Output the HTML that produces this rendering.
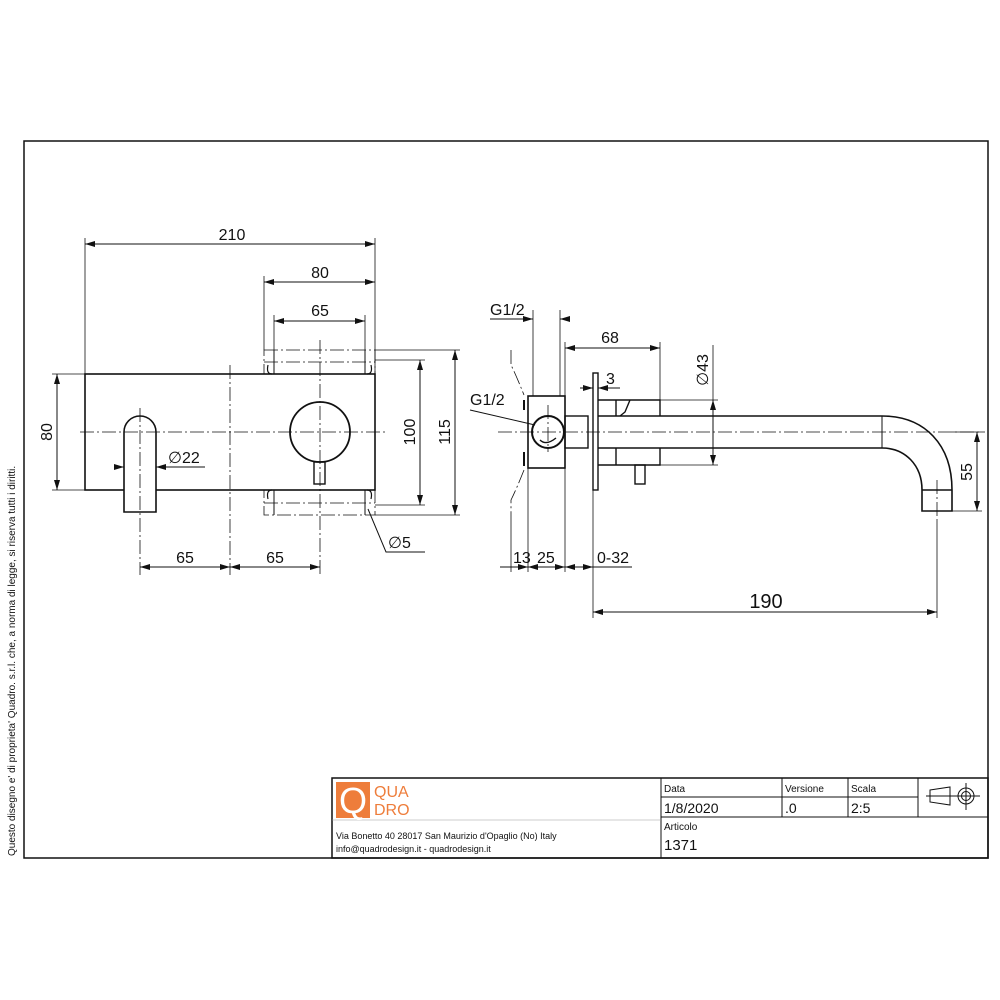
<!DOCTYPE html>
<html><head><meta charset="utf-8"><style>
html,body{margin:0;padding:0;background:#fff}
svg{display:block}
text{font-family:"Liberation Sans",sans-serif;fill:#111}
</style></head><body>
<svg width="1000" height="1000" viewBox="0 0 1000 1000" xmlns="http://www.w3.org/2000/svg">
<defs>
<marker id="a" viewBox="0 0 10 6" refX="10" refY="3" markerWidth="10" markerHeight="6" orient="auto-start-reverse" markerUnits="userSpaceOnUse"><path d="M0,0L10,3L0,6z" fill="#111"/></marker>
</defs>
<g fill="none" stroke="#111" stroke-width="1">
<rect x="24" y="141" width="964" height="717" stroke-width="1.5"/>
<rect x="332" y="778" width="656" height="80" stroke-width="1.5"/>
<line x1="661" y1="778" x2="661" y2="858"/>
<line x1="782" y1="778" x2="782" y2="817"/>
<line x1="848" y1="778" x2="848" y2="817"/>
<line x1="918" y1="778" x2="918" y2="817"/>
<line x1="661" y1="797" x2="918" y2="797"/>
<line x1="661" y1="817" x2="988" y2="817"/>
<line x1="332" y1="820" x2="661" y2="820" stroke="#999" stroke-width="0.6"/>
<path d="M930,790 L950,787 L950,805 L930,802 Z"/>
<circle cx="966" cy="796" r="8"/><circle cx="966" cy="796" r="4.5"/>
<line x1="926" y1="796" x2="980" y2="796"/><line x1="966" y1="783" x2="966" y2="810"/>

<rect x="85" y="374" width="290" height="116" stroke-width="1.6"/>
<path d="M124,512 L124,432 A16,16 0 0 1 156,432 L156,512 Z" fill="#fff" stroke-width="1.6"/>
<circle cx="320" cy="432" r="30" stroke-width="1.8"/>
<rect x="314" y="462" width="11" height="22" stroke-width="1.4"/>
<g stroke-dasharray="14,3,2,3" stroke-width="0.8">
<line x1="80" y1="432" x2="385" y2="432"/>
<line x1="230" y1="365" x2="230" y2="575"/>
<line x1="320" y1="340" x2="320" y2="575"/>
<line x1="140" y1="408" x2="140" y2="575"/>
<rect x="264" y="350" width="111" height="24"/>
<rect x="264" y="490" width="111" height="25"/>
<line x1="264" y1="362" x2="375" y2="362"/>
<line x1="264" y1="503" x2="375" y2="503"/>
</g>
<path d="M268,365 Q266,374 272,374 M371,365 Q373,374 367,374 M268,499 Q266,490 272,490 M371,499 Q373,490 367,490" stroke-width="1.2"/>
<line x1="274" y1="350" x2="274" y2="374"/><line x1="365" y1="350" x2="365" y2="374"/>
<line x1="274" y1="490" x2="274" y2="515"/><line x1="365" y1="490" x2="365" y2="515"/>
<line x1="85" y1="238" x2="85" y2="374" stroke-width="0.8"/>
<line x1="375" y1="238" x2="375" y2="374" stroke-width="0.8"/>
<line x1="85" y1="244" x2="375" y2="244" marker-start="url(#a)" marker-end="url(#a)"/>
<line x1="264" y1="276" x2="264" y2="350" stroke-width="0.8"/>
<line x1="264" y1="282" x2="375" y2="282" marker-start="url(#a)" marker-end="url(#a)"/>
<line x1="274" y1="315" x2="274" y2="350" stroke-width="0.8"/>
<line x1="365" y1="315" x2="365" y2="350" stroke-width="0.8"/>
<line x1="274" y1="321" x2="365" y2="321" marker-start="url(#a)" marker-end="url(#a)"/>
<line x1="52" y1="374" x2="85" y2="374" stroke-width="0.8"/>
<line x1="52" y1="490" x2="85" y2="490" stroke-width="0.8"/>
<line x1="57" y1="374" x2="57" y2="490" marker-start="url(#a)" marker-end="url(#a)"/>
<line x1="375" y1="360" x2="425" y2="360" stroke-width="0.8"/>
<line x1="375" y1="505" x2="425" y2="505" stroke-width="0.8"/>
<line x1="420" y1="360" x2="420" y2="505" marker-start="url(#a)" marker-end="url(#a)"/>
<line x1="375" y1="350" x2="460" y2="350" stroke-width="0.8"/>
<line x1="375" y1="515" x2="460" y2="515" stroke-width="0.8"/>
<line x1="455" y1="350" x2="455" y2="515" marker-start="url(#a)" marker-end="url(#a)"/>
<line x1="140" y1="567" x2="230" y2="567" marker-start="url(#a)" marker-end="url(#a)"/>
<line x1="230" y1="567" x2="320" y2="567" marker-start="url(#a)" marker-end="url(#a)"/>
<line x1="115" y1="467" x2="124" y2="467" marker-end="url(#a)"/>
<line x1="166" y1="467" x2="156" y2="467" marker-end="url(#a)"/>
<line x1="156" y1="467" x2="205" y2="467"/>
<path d="M368,509 L386,552 L425,552"/>

<rect x="528" y="396" width="37" height="72" stroke-width="1.6"/>
<circle cx="548" cy="432" r="16" stroke-width="2"/>
<path d="M540,440 Q546,446 556,438" stroke-width="1.4"/>
<rect x="565" y="416" width="23" height="32" stroke-width="1.4"/>
<rect x="593" y="373" width="5" height="117" stroke-width="1.4"/>
<path d="M598,400 L616,400 L616,416 M598,465 L616,465 L616,448 M616,400 L660,400 L660,416 M616,465 L660,465 L660,448 M630,400 L625,412 L620,416" stroke-width="1.4"/>
<rect x="635" y="465" width="10" height="19" stroke-width="1.4"/>
<path d="M598,416 L882,416 C925,416 952,445 952,490 L952,511 L922,511 L922,490 C922,465 905,448 882,448 L598,448" stroke-width="1.6"/>
<line x1="882" y1="416" x2="882" y2="448"/>
<line x1="922" y1="490" x2="952" y2="490" stroke-width="1.4"/>
<path d="M524,400 L524,410 M524,452 L524,466" stroke-width="2"/>
<g stroke-dasharray="14,3,2,3" stroke-width="0.8">
<line x1="498" y1="432" x2="985" y2="432"/>
<path d="M511,350 L511,365 Q516,375 524,395"/>
<path d="M524,470 Q516,490 511,500 L511,520"/>
<line x1="548" y1="405" x2="548" y2="452"/>
<line x1="937" y1="480" x2="937" y2="520"/>
</g>
<line x1="533" y1="310" x2="533" y2="396" stroke-width="0.8"/>
<line x1="560" y1="310" x2="560" y2="396" stroke-width="0.8"/>
<line x1="490" y1="319" x2="533" y2="319"/>
<line x1="520" y1="319" x2="533" y2="319" marker-end="url(#a)"/>
<line x1="570" y1="319" x2="560" y2="319" marker-end="url(#a)"/>
<line x1="565" y1="342" x2="565" y2="396" stroke-width="0.8"/>
<line x1="660" y1="342" x2="660" y2="400" stroke-width="0.8"/>
<line x1="565" y1="348" x2="660" y2="348" marker-start="url(#a)" marker-end="url(#a)"/>
<line x1="580" y1="388" x2="593" y2="388" marker-end="url(#a)"/>
<line x1="610" y1="388" x2="598" y2="388" marker-end="url(#a)"/>
<line x1="598" y1="388" x2="620" y2="388"/>
<line x1="660" y1="400" x2="718" y2="400" stroke-width="0.8"/>
<line x1="660" y1="465" x2="718" y2="465" stroke-width="0.8"/>
<line x1="713" y1="400" x2="713" y2="465" marker-start="url(#a)" marker-end="url(#a)"/>
<line x1="713" y1="345" x2="713" y2="400" stroke-width="0.8"/>
<line x1="952" y1="432" x2="982" y2="432" stroke-width="0.8"/>
<line x1="952" y1="511" x2="982" y2="511" stroke-width="0.8"/>
<line x1="977" y1="432" x2="977" y2="511" marker-start="url(#a)" marker-end="url(#a)"/>
<line x1="470" y1="410" x2="535" y2="425"/>
<line x1="511" y1="520" x2="511" y2="572" stroke-width="0.8"/>
<line x1="528" y1="468" x2="528" y2="572" stroke-width="0.8"/>
<line x1="565" y1="468" x2="565" y2="572" stroke-width="0.8"/>
<line x1="593" y1="490" x2="593" y2="618" stroke-width="0.8"/>
<line x1="937" y1="520" x2="937" y2="618" stroke-width="0.8"/>
<line x1="500" y1="567" x2="528" y2="567" marker-end="url(#a)"/>
<line x1="528" y1="567" x2="565" y2="567" marker-start="url(#a)" marker-end="url(#a)"/>
<line x1="565" y1="567" x2="593" y2="567" marker-start="url(#a)" marker-end="url(#a)"/>
<line x1="593" y1="567" x2="632" y2="567"/>
<line x1="593" y1="612" x2="937" y2="612" marker-start="url(#a)" marker-end="url(#a)"/>
</g>
<rect x="336" y="782" width="34" height="36" fill="#ee7d3b"/>
<text x="353" y="813" font-size="36" text-anchor="middle" style="fill:#fff">Q</text>
<text x="374" y="797" font-size="16" style="fill:#ee7d3b">QUA</text>
<text x="374" y="815" font-size="16" style="fill:#ee7d3b">DRO</text>
<text x="336" y="839" font-size="9">Via Bonetto 40  28017 San Maurizio d'Opaglio (No) Italy</text>
<text x="336" y="852" font-size="9">info@quadrodesign.it  -  quadrodesign.it</text>
<text x="664" y="792" font-size="10">Data</text>
<text x="785" y="792" font-size="10">Versione</text>
<text x="851" y="792" font-size="10">Scala</text>
<text x="664" y="813" font-size="14">1/8/2020</text>
<text x="785" y="813" font-size="14">.0</text>
<text x="851" y="813" font-size="14">2:5</text>
<text x="664" y="830" font-size="10">Articolo</text>
<text x="664" y="850" font-size="15">1371</text>
<text transform="translate(15,856) rotate(-90)" font-size="10">Questo disegno e' di proprieta' Quadro. s.r.l. che, a norma di legge, si riserva tutti i diritti.</text>
<g font-size="16">
<text x="232" y="240" text-anchor="middle">210</text>
<text x="320" y="278" text-anchor="middle">80</text>
<text x="320" y="316" text-anchor="middle">65</text>
<text transform="translate(52,432) rotate(-90)" text-anchor="middle">80</text>
<text transform="translate(415,432) rotate(-90)" text-anchor="middle">100</text>
<text transform="translate(450,432) rotate(-90)" text-anchor="middle">115</text>
<text x="185" y="563" text-anchor="middle">65</text>
<text x="275" y="563" text-anchor="middle">65</text>
<text x="168" y="463">∅22</text>
<text x="388" y="548">∅5</text>
<text x="490" y="315">G1/2</text>
<text x="610" y="343" text-anchor="middle">68</text>
<text x="606" y="384">3</text>
<text transform="translate(708,370) rotate(-90)" text-anchor="middle">∅43</text>
<text x="470" y="405">G1/2</text>
<text transform="translate(972,472) rotate(-90)" text-anchor="middle">55</text>
<text x="513" y="563">13</text>
<text x="537" y="563">25</text>
<text x="597" y="563">0-32</text>
<text x="766" y="608" text-anchor="middle" font-size="20">190</text>
</g>
</svg>
</body></html>
